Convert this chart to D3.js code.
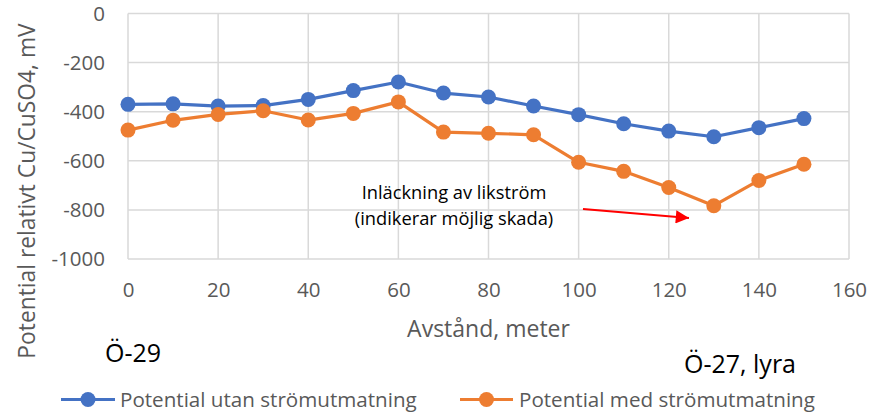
<!DOCTYPE html>
<html>
<head>
<meta charset="utf-8">
<script src="https://cdn.jsdelivr.net/npm/d3@7/dist/d3.min.js"></script>
<style>
  html, body { margin: 0; padding: 0; background: #fff; }
  svg { display: block; }
</style>
</head>
<body>
<svg id="chart" width="875" height="414"></svg>
<script>
// Distance along the pipe (m)
const distances = [0, 10, 20, 30, 40, 50, 60, 70, 80, 90, 100, 110, 120, 130, 140, 150];
// Potential without current injection (mV vs Cu/CuSO4)
const utanValues = [-370, -368, -377, -375, -350, -314, -279, -324, -340, -377, -412, -449, -479, -502, -465, -428];
// Potential with current injection (mV vs Cu/CuSO4)
const medValues = [-475, -435, -411, -396, -434, -407, -360, -483, -488, -494, -606, -643, -709, -783, -680, -614];

const xTicks = [0, 20, 40, 60, 80, 100, 120, 140, 160];
const yTicks = [0, -200, -400, -600, -800, -1000];

const seriesNames = ["Potential utan strömutmatning", "Potential med strömutmatning"];
const seriesColors = ["#4472C4", "#ED7D31"];

const svg = d3.select("#chart");
const font = "'Open Sans', 'Liberation Sans', sans-serif";

const plot = { left: 128, right: 849, top: 13.5, bottom: 259 };

const x = d3.scaleLinear().domain([0, 160]).range([plot.left, plot.right]);
const y = d3.scaleLinear().domain([-1000, 0]).range([plot.bottom, plot.top]);

// Gridlines
const grid = svg.append("g");
grid.selectAll("line.h").data(yTicks).join("line")
  .attr("x1", plot.left).attr("x2", plot.right)
  .attr("y1", d => y(d)).attr("y2", d => y(d))
  .attr("stroke", "#d9d9d9").attr("stroke-width", 1.5);
grid.selectAll("line.v").data(xTicks).join("line")
  .attr("x1", d => x(d)).attr("x2", d => x(d))
  .attr("y1", plot.top).attr("y2", plot.bottom)
  .attr("stroke", "#d9d9d9").attr("stroke-width", 1.5);

// Axes (labels only, gridlines form the frame)
const plainNum = d => String(d);
const yAxis = svg.append("g")
  .attr("transform", `translate(${plot.left},0)`)
  .call(d3.axisLeft(y).tickValues(yTicks).tickSize(0).tickPadding(23).tickFormat(plainNum));
yAxis.select(".domain").remove();
yAxis.selectAll("text")
  .attr("font-family", font).attr("font-size", 20.5).attr("fill", "#595959");

const xAxis = svg.append("g")
  .attr("transform", `translate(0,${plot.bottom})`)
  .call(d3.axisBottom(x).tickValues(xTicks).tickSize(0).tickFormat(plainNum));
xAxis.select(".domain").remove();
xAxis.selectAll("text")
  .attr("y", 38).attr("dy", null)
  .attr("font-family", font).attr("font-size", 20.5).attr("fill", "#595959");

// Axis titles
svg.append("text")
  .attr("x", x(80)).attr("y", 337)
  .attr("text-anchor", "middle")
  .attr("font-family", font).attr("font-size", 23).attr("fill", "#595959")
  .text("Avstånd, meter");

svg.append("text")
  .attr("transform", "translate(35,191) rotate(-90)")
  .attr("text-anchor", "middle")
  .attr("font-family", font).attr("font-size", 22.8).attr("fill", "#595959")
  .text("Potential relativt Cu/CuSO4, mV");

// Series
const line = d3.line().x((d, i) => x(distances[i])).y(d => y(d));
[utanValues, medValues].forEach((vals, s) => {
  svg.append("path")
    .datum(vals)
    .attr("d", line)
    .attr("fill", "none")
    .attr("stroke", seriesColors[s])
    .attr("stroke-width", 3.2)
    .attr("stroke-linejoin", "round");
  svg.append("g").selectAll("circle").data(vals).join("circle")
    .attr("cx", (d, i) => x(distances[i]))
    .attr("cy", d => y(d))
    .attr("r", 7.5)
    .attr("fill", seriesColors[s]);
});

// Annotation
const note = svg.append("text")
  .attr("font-family", font).attr("font-size", 18.3).attr("fill", "#000")
  .attr("text-anchor", "middle");
note.append("tspan").attr("x", 454).attr("y", 199).text("Inläckning av likström");
note.append("tspan").attr("x", 454).attr("y", 224.5).text("(indikerar möjlig skada)");

svg.append("defs").append("marker")
  .attr("id", "arrowhead")
  .attr("viewBox", "0 0 10 10")
  .attr("refX", 10).attr("refY", 5)
  .attr("markerWidth", 7.5).attr("markerHeight", 6)
  .attr("markerUnits", "strokeWidth")
  .attr("orient", "auto")
  .append("path").attr("d", "M0,0 L10,5 L0,10 Z").attr("fill", "#FF0000");

svg.append("line")
  .attr("x1", 583).attr("y1", 209)
  .attr("x2", 689).attr("y2", 218)
  .attr("stroke", "#FF0000").attr("stroke-width", 2.2)
  .attr("marker-end", "url(#arrowhead)");

// Endpoint labels
svg.append("text")
  .attr("x", 105).attr("y", 361.5)
  .attr("font-family", font).attr("font-size", 25).attr("fill", "#000")
  .text("Ö-29");
svg.append("text")
  .attr("x", 684).attr("y", 373)
  .attr("font-family", font).attr("font-size", 25).attr("fill", "#000")
  .text("Ö-27, lyra");

// Legend
const legendItems = [
  { x1: 61, x2: 115, text: 120 },
  { x1: 460, x2: 513, text: 519 }
];
legendItems.forEach((it, s) => {
  const ly = 399.5;
  svg.append("line")
    .attr("x1", it.x1).attr("x2", it.x2).attr("y1", ly).attr("y2", ly)
    .attr("stroke", seriesColors[s]).attr("stroke-width", 3.2);
  svg.append("circle")
    .attr("cx", (it.x1 + it.x2) / 2).attr("cy", ly).attr("r", 7.5)
    .attr("fill", seriesColors[s]);
  svg.append("text")
    .attr("x", it.text).attr("y", 407)
    .attr("font-family", font).attr("font-size", 20.6).attr("fill", "#595959")
    .text(seriesNames[s]);
});
</script>
</body>
</html>
